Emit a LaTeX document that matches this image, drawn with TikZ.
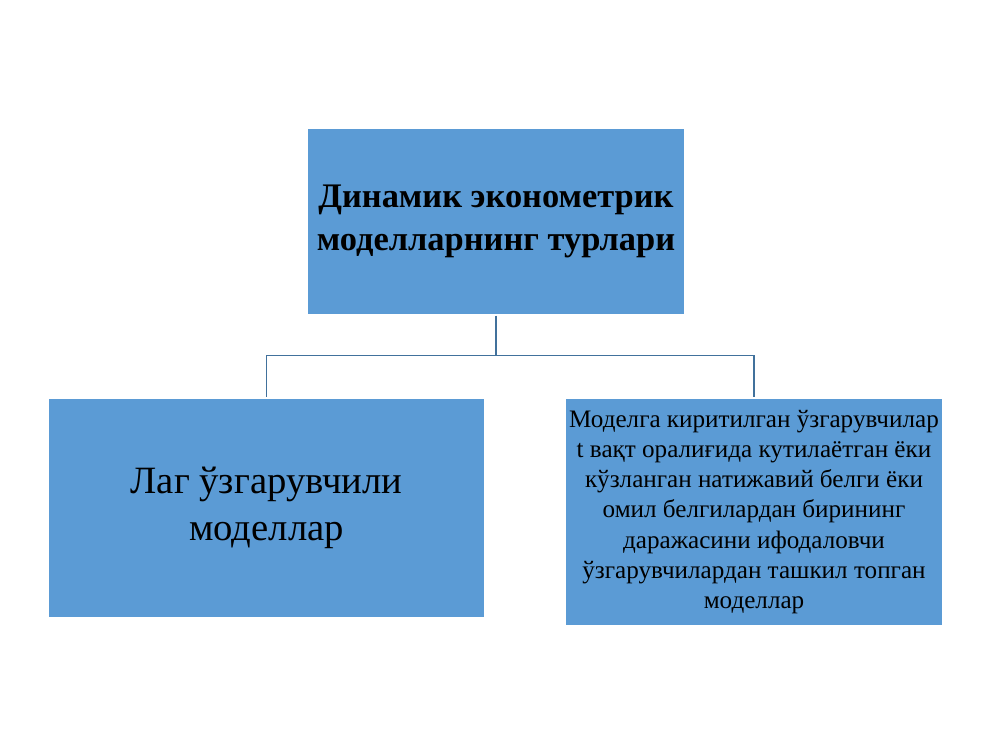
\documentclass[tikz,border=0pt]{standalone}
\usepackage{fontspec}
\setmainfont{Liberation Serif}
\usetikzlibrary{positioning}

\definecolor{boxblue}{HTML}{5B9BD5}
\definecolor{linkblue}{HTML}{41719C}

\begin{document}
\begin{tikzpicture}[
    typebox/.style={fill=boxblue,draw=white,line width=0.6pt,align=center,inner sep=2pt},
    link/.style={draw=linkblue,line width=0.8pt}
  ]
    \useasboundingbox (0,0) rectangle (20,15);

    \node[typebox,minimum width=7.56cm,minimum height=3.74cm,
      font=\fontsize{19.6}{24.5}\selectfont\bfseries] (Top) at (9.92,10.57)
      {Динамик эконометрик\\моделларнинг турлари};
    \node[typebox,minimum width=8.74cm,minimum height=4.4cm,
      font=\fontsize{22}{26.6}\selectfont] (Lag) at (5.33,4.84)
      {Лаг ўзгарувчили\\моделлар};
    \node[typebox,minimum width=7.56cm,minimum height=4.56cm,
      font=\fontsize{14.3}{17.2}\selectfont] (Exp) at (15.08,4.76)
      {Моделга киритилган ўзгарувчилар\\t вақт оралиғида кутилаётган ёки\\кўзланган натижавий белги ёки\\омил белгилардан бирининг\\даражасини ифодаловчи\\ўзгарувчилардан ташкил топган\\моделлар};

    \coordinate (Fork) at ([yshift=-0.8cm]Top.south);
    \draw[link] (Top.south) -- (Fork);
    \draw[link] (Fork) -| (Lag.north);
    \draw[link] (Fork) -| (Exp.north);
\end{tikzpicture}
\end{document}
